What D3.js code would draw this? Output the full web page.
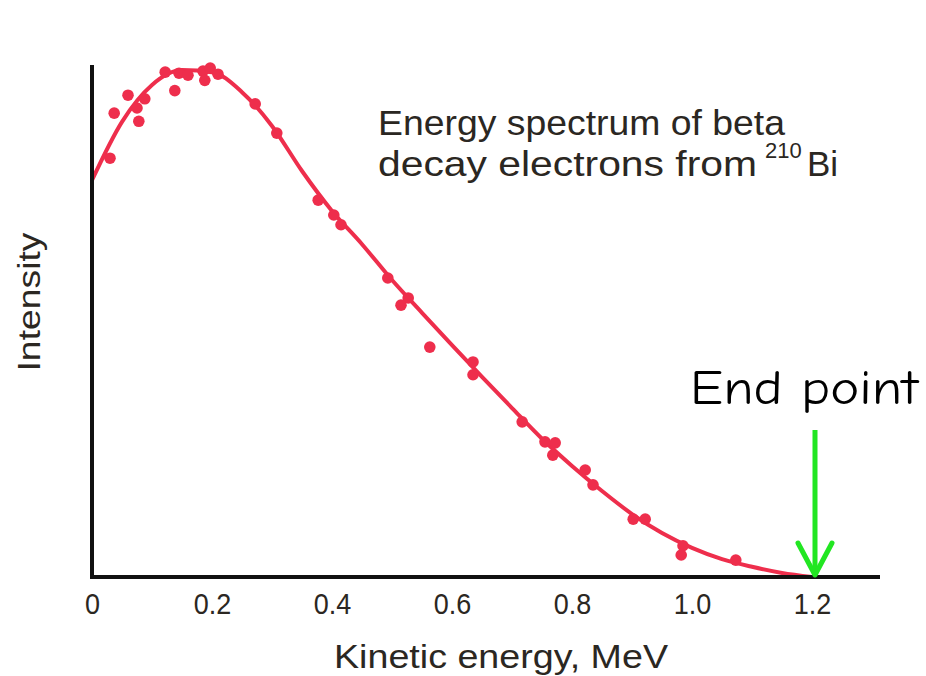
<!DOCTYPE html>
<html>
<head>
<meta charset="utf-8">
<script src="https://cdn.jsdelivr.net/npm/d3@7/dist/d3.min.js"></script>
<style>
  html, body { margin: 0; padding: 0; background: #fff; }
</style>
</head>
<body>
<div id="viz"></div>
<script>
// fitted curve (MeV, relative intensity)
const curveEnergy = [0, 0.05, 0.1, 0.15, 0.2, 0.25, 0.3, 0.35, 0.4, 0.45, 0.5, 0.55, 0.6,
  0.65, 0.7, 0.75, 0.8, 0.85, 0.9, 0.95, 1.0, 1.05, 1.1, 1.15, 1.2];
const curveIntensity = [77.5, 88.9, 96.1, 99.0, 98.6, 94.7, 88.1, 79.3, 71.5, 65.0, 58.0, 51.6, 45.3,
  39.1, 33.0, 27.0, 21.7, 16.8, 12.3, 8.6, 5.7, 3.5, 2.0, 0.8, 0];

// measured electrons
const pointEnergy = [0.030, 0.037, 0.060, 0.075, 0.088, 0.078, 0.122, 0.138, 0.145, 0.160, 0.185,
  0.197, 0.188, 0.210, 0.272, 0.308, 0.377, 0.403, 0.415, 0.493, 0.527, 0.515, 0.563, 0.635,
  0.635, 0.717, 0.755, 0.772, 0.768, 0.822, 0.835, 0.902, 0.922, 0.985, 0.982, 1.073];
const pointIntensity = [81.8, 90.6, 94.1, 91.6, 93.4, 89.0, 98.6, 95.0, 98.4, 98.0, 98.8,
  99.4, 97.0, 98.2, 92.4, 86.7, 73.6, 70.7, 68.8, 58.4, 54.5, 53.1, 44.9, 42.0,
  39.5, 30.3, 26.4, 26.2, 23.8, 20.9, 18.0, 11.3, 11.3, 6.1, 4.3, 3.3];

const xTicks = [0, 0.2, 0.4, 0.6, 0.8, 1.0, 1.2];
const endPoint = 1.205;

const config = {
  width: 926,
  height: 676,
  left: 92,
  bottom: 577,
  top: 65,
  right: 880,
  red: "#ee2e4c",
  green: "#22e622",
  text: "#2b2722",
  font: "'Liberation Sans', Arial, Helvetica, sans-serif",
};

const svg = d3
  .select("#viz")
  .append("svg")
  .attr("width", config.width)
  .attr("height", config.height);

const x = d3.scaleLinear().domain([0, 1.2]).range([config.left, 812]);
const y = d3.scaleLinear().domain([0, 100]).range([config.bottom, config.top]);

// fitted curve
const curveData = curveEnergy.map((e, i) => [e, curveIntensity[i]]);
svg
  .append("path")
  .datum(curveData)
  .attr("fill", "none")
  .attr("stroke", config.red)
  .attr("stroke-width", 4)
  .attr("d", d3.line().x((d) => x(d[0])).y((d) => y(d[1])).curve(d3.curveMonotoneX));

// data points
svg
  .selectAll("circle.pt")
  .data(pointEnergy.map((e, i) => [e, pointIntensity[i]]))
  .join("circle")
  .attr("class", "pt")
  .attr("cx", (d) => x(d[0]))
  .attr("cy", (d) => y(d[1]))
  .attr("r", 5.8)
  .attr("fill", config.red);

// axes
svg
  .append("line")
  .attr("x1", config.left)
  .attr("x2", config.left)
  .attr("y1", config.top)
  .attr("y2", config.bottom + 2)
  .attr("stroke", "#111")
  .attr("stroke-width", 4);

const xAxis = svg
  .append("g")
  .attr("transform", `translate(0,${config.bottom})`)
  .call(
    d3
      .axisBottom(x)
      .tickValues(xTicks)
      .tickSize(0)
      .tickPadding(16)
      .tickFormat((d) => (d === 0 ? "0" : d3.format(".1f")(d)))
  );
xAxis.select(".domain").remove();
xAxis
  .selectAll("text")
  .attr("font-family", config.font)
  .attr("font-size", 30)
  .attr("fill", config.text)
  .attr("transform", "scale(0.9,1)");

svg
  .append("line")
  .attr("x1", config.left - 2)
  .attr("x2", config.right)
  .attr("y1", config.bottom)
  .attr("y2", config.bottom)
  .attr("stroke", "#111")
  .attr("stroke-width", 4);

// axis titles
svg
  .append("text")
  .attr("x", 501)
  .attr("y", 668)
  .attr("text-anchor", "middle")
  .attr("font-family", config.font)
  .attr("font-size", 33)
  .attr("fill", config.text)
  .attr("textLength", 334)
  .attr("lengthAdjust", "spacingAndGlyphs")
  .text("Kinetic energy, MeV");

svg
  .append("text")
  .attr("transform", "translate(40,302) rotate(-90)")
  .attr("text-anchor", "middle")
  .attr("font-family", config.font)
  .attr("font-size", 32)
  .attr("fill", config.text)
  .attr("textLength", 139)
  .attr("lengthAdjust", "spacingAndGlyphs")
  .text("Intensity");

// chart caption
svg
  .append("text")
  .attr("x", 378)
  .attr("y", 135)
  .attr("font-family", config.font)
  .attr("font-size", 35)
  .attr("fill", config.text)
  .attr("textLength", 407)
  .attr("lengthAdjust", "spacingAndGlyphs")
  .text("Energy spectrum of beta");

const line2 = svg
  .append("text")
  .attr("x", 378)
  .attr("y", 176)
  .attr("font-family", config.font)
  .attr("font-size", 35)
  .attr("fill", config.text);
line2.append("tspan").attr("textLength", 379).attr("lengthAdjust", "spacingAndGlyphs").text("decay electrons from");
line2.append("tspan").attr("x", 765).attr("dy", -18).attr("font-size", 22).text("210");
line2.append("tspan").attr("x", 807).attr("dy", 18).text("Bi");

// end point annotation
svg
  .append("text")
  .attr("x", 690)
  .attr("y", 404)
  .attr("font-family", "'Comic Sans MS', 'Comic Neue', Lato, 'Open Sans', sans-serif")
  .attr("font-size", 48)
  .attr("fill", "#000")
  .attr("textLength", 228)
  .attr("lengthAdjust", "spacingAndGlyphs")
  .text("End point");

const ex = x(endPoint);
svg
  .append("line")
  .attr("x1", ex)
  .attr("x2", ex)
  .attr("y1", 430)
  .attr("y2", config.bottom - 2)
  .attr("stroke", config.green)
  .attr("stroke-width", 5);

svg
  .append("path")
  .attr("d", `M${ex - 17},${config.bottom - 34} L${ex},${config.bottom - 2} L${ex + 17},${config.bottom - 34}`)
  .attr("fill", "none")
  .attr("stroke", config.green)
  .attr("stroke-width", 5)
  .attr("stroke-linecap", "round")
  .attr("stroke-linejoin", "round");
</script>
</body>
</html>
